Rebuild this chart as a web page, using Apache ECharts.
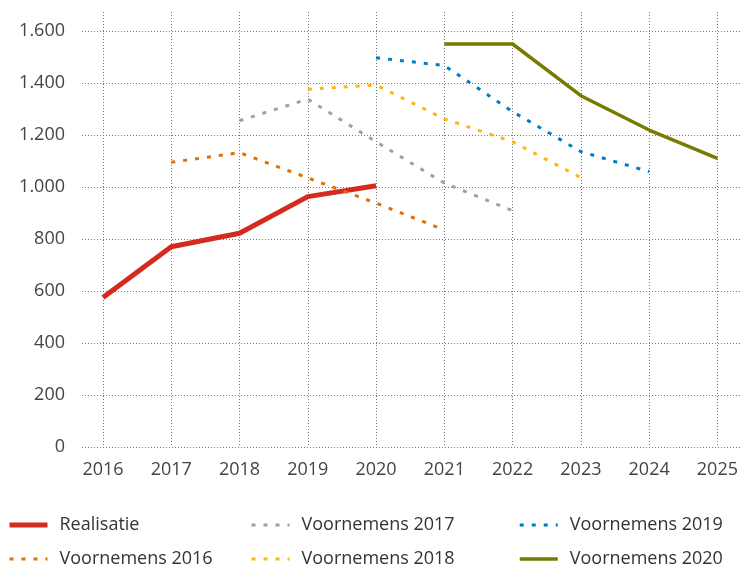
<!DOCTYPE html>
<html>
<head>
<meta charset="utf-8">
<script src="https://cdn.jsdelivr.net/npm/echarts@6/dist/echarts.min.js"></script>
<style>
  html, body { margin: 0; padding: 0; background: #fff; }
  #chart { width: 741px; height: 567px; }
</style>
</head>
<body>
<div id="chart"></div>
<script>
const years = ['2016', '2017', '2018', '2019', '2020', '2021', '2022', '2023', '2024', '2025'];
const realisatie = [575, 770, 822, 963, 1005, null, null, null, null, null];
const voornemens2016 = [null, 1095, 1132, 1035, 938, 835, null, null, null, null];
const voornemens2017 = [null, null, 1255, 1338, 1174, 1015, 909, null, null, null];
const voornemens2018 = [null, null, null, 1376, 1392, 1262, 1174, 1036, null, null];
const voornemens2019 = [null, null, null, null, 1497, 1467, 1290, 1136, 1059, null];
const voornemens2020 = [null, null, null, null, null, 1550, 1550, 1351, 1219, 1110];

const font = '"Open Sans", "Noto Sans", sans-serif';
const textColor = '#444';
const gridColor = '#777';
const dots = [4, 8];

const styles = {
  'Realisatie': { color: '#d52b1e', width: 5, type: 'solid' },
  'Voornemens 2016': { color: '#e17000', width: 3, type: dots },
  'Voornemens 2017': { color: '#a0a0a0', width: 3, type: dots },
  'Voornemens 2018': { color: '#ffb612', width: 3, type: dots },
  'Voornemens 2019': { color: '#007bc7', width: 3, type: dots },
  'Voornemens 2020': { color: '#777c00', width: 3.5, type: 'solid' }
};

const chart = echarts.init(document.getElementById('chart'));

function line(name, data) {
  const s = styles[name];
  return {
    name: name,
    type: 'line',
    xAxisIndex: 1,
    yAxisIndex: 1,
    data: data,
    symbol: 'none',
    connectNulls: false,
    animation: false,
    lineStyle: { color: s.color, width: s.width, type: s.type, cap: 'butt' },
    itemStyle: { color: s.color }
  };
}

function legend(left, names) {
  return {
    orient: 'vertical',
    left: left,
    top: 516,
    height: 80,
    padding: 0,
    itemWidth: 38,
    itemHeight: 14,
    itemGap: 16,
    itemStyle: { opacity: 0 },
    data: names.map(n => ({
      name: n,
      lineStyle: { color: styles[n].color, width: styles[n].width, type: styles[n].type }
    })),
    textStyle: { fontFamily: font, fontSize: 18, color: '#333', padding: [0, 0, 0, 7] }
  };
}

chart.setOption({
  animation: false,
  grid: [
    { left: 82, right: 0, top: 31, bottom: 120 },
    { left: 103, right: 23, top: 12, bottom: 120 }
  ],
  xAxis: [
    { gridIndex: 0, type: 'value', show: false },
    {
      gridIndex: 1,
      type: 'category',
      data: years,
      boundaryGap: false,
      axisLine: { show: false },
      axisTick: { show: false },
      axisLabel: { fontFamily: font, fontSize: 18, color: textColor, margin: 14 },
      splitLine: { show: true, lineStyle: { color: gridColor, width: 1, type: [1, 2] } }
    }
  ],
  yAxis: [
    {
      gridIndex: 0,
      type: 'value',
      min: 0,
      max: 1600,
      interval: 200,
      axisLine: { show: false },
      axisTick: { show: false },
      axisLabel: {
        fontFamily: font, fontSize: 18, color: textColor, margin: 17,
        formatter: v => v >= 1000 ? Math.floor(v / 1000) + '.' + String(v % 1000).padStart(3, '0') : String(v)
      },
      splitLine: { show: true, lineStyle: { color: gridColor, width: 1, type: [1, 2] } }
    },
    { gridIndex: 1, type: 'value', min: 0, max: 1673, show: false, splitLine: { show: false } }
  ],
  legend: [
    legend(7, ['Realisatie', 'Voornemens 2016']),
    legend(250, ['Voornemens 2017', 'Voornemens 2018']),
    legend(518, ['Voornemens 2019', 'Voornemens 2020'])
  ],
  series: [
    line('Realisatie', realisatie),
    line('Voornemens 2016', voornemens2016),
    line('Voornemens 2017', voornemens2017),
    line('Voornemens 2018', voornemens2018),
    line('Voornemens 2019', voornemens2019),
    line('Voornemens 2020', voornemens2020)
  ]
});
</script>
</body>
</html>
